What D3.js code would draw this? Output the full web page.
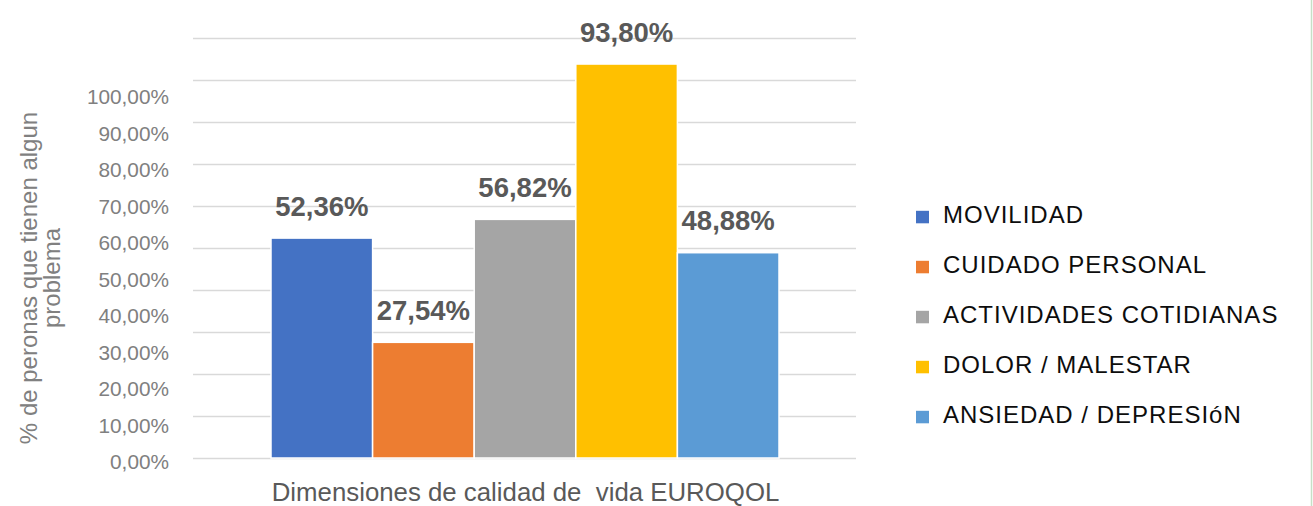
<!DOCTYPE html>
<html>
<head>
<meta charset="utf-8">
<script src="https://cdn.jsdelivr.net/npm/d3@7"></script>
<style>
  body { margin: 0; background: #fff; }
  text { font-family: "Liberation Sans", Arial, sans-serif; }
</style>
</head>
<body>
<div id="chart"></div>
<script>
// data
let categories = ["MOVILIDAD", "CUIDADO PERSONAL", "ACTIVIDADES COTIDIANAS", "DOLOR / MALESTAR", "ANSIEDAD / DEPRESIóN"];
let values = [0.5236, 0.2754, 0.5682, 0.9380, 0.4888];
let colors = ["#4472C4", "#ED7D31", "#A5A5A5", "#FFC000", "#5B9BD5"];
let tickValues = [0, 0.1, 0.2, 0.3, 0.4, 0.5, 0.6, 0.7, 0.8, 0.9, 1];
let tickLabels = ["0,00%", "10,00%", "20,00%", "30,00%", "40,00%", "50,00%", "60,00%", "70,00%", "80,00%", "90,00%", "100,00%"];
let yTitle = ["% de peronas que tienen algun", "problema"];
let xTitle = "Dimensiones de calidad de  vida EUROQOL";

let w = 1313;
let h = 506;
let plotLeft = 193, plotRight = 856;

let svg = d3.select("#chart")
            .append("svg")
            .attr("width", w)
            .attr("height", h)
;

let esLocale = d3.formatLocale({decimal: ",", thousands: ".", grouping: [3], currency: ["", "€"]});
let pct = esLocale.format(".2%");

// scales
let xScale = d3.scaleBand().domain(categories).range([271, 779]).padding(0);
let yScale = d3.scaleLinear().domain([0, 1]).range([458, 38]);
// the tick labels in the picture sit on their own spacing, not on the gridlines
let labelScale = d3.scaleLinear().domain([0, 1]).range([462, 97]);

// gridlines
let gridGroup = svg.append("g")
                   .attr("class", "grid")
                   .attr("transform", "translate(" + plotLeft + ",0)")
;
gridGroup.call(d3.axisRight(yScale).tickValues(tickValues).tickSize(plotRight - plotLeft).tickFormat(""));
gridGroup.select(".domain").remove();
gridGroup.selectAll("line").attr("stroke", "#d9d9d9").attr("stroke-width", 1.5);

// y tick labels
let yAxisGroup = svg.append("g")
                    .attr("class", "yaxis")
                    .attr("transform", "translate(169,0)")
;
yAxisGroup.call(d3.axisLeft(labelScale).tickValues(tickValues).tickSize(0).tickPadding(0)
          .tickFormat((d, i) => tickLabels[i]));
yAxisGroup.select(".domain").remove();
yAxisGroup.selectAll("text")
          .attr("font-family", "Liberation Sans, Arial, sans-serif")
          .attr("font-size", 20.8)
          .attr("fill", "#808080")
;

// bars
svg.selectAll(".bar")
   .data(values)
   .enter()
   .append("rect")
   .attr("class", "bar")
   .attr("x", (d, i) => xScale(categories[i]))
   .attr("y", d => yScale(d))
   .attr("width", xScale.bandwidth())
   .attr("height", d => yScale(0) - yScale(d))
   .attr("fill", (d, i) => colors[i])
   .attr("stroke", "#fff")
   .attr("stroke-width", 1.5)
;

// value labels
svg.selectAll(".vlabel")
   .data(values)
   .enter()
   .append("text")
   .attr("class", "vlabel")
   .attr("x", (d, i) => xScale(categories[i]) + xScale.bandwidth() / 2)
   .attr("y", d => yScale(d) - 22.5)
   .attr("text-anchor", "middle")
   .attr("font-size", 27.5)
   .attr("font-weight", "bold")
   .attr("fill", "#595959")
   .text(d => pct(d))
;

// axis titles
svg.append("text")
   .attr("x", 525.5)
   .attr("y", 500.5)
   .attr("text-anchor", "middle")
   .attr("font-size", 25.8)
   .attr("fill", "#595959")
   .style("white-space", "pre")
   .text(xTitle)
;

yTitle.forEach(function(line, i){
  svg.append("text")
     .attr("transform", "translate(" + (37 + i * 23) + ",278) rotate(-90)")
     .attr("text-anchor", "middle")
     .attr("font-size", 24)
     .attr("fill", "#808080")
     .text(line)
  ;
});

// legend
let legend = svg.selectAll(".legend")
                .data(categories)
                .enter()
                .append("g")
                .attr("class", "legend")
                .attr("transform", (d, i) => "translate(916," + (223.3 + i * 50) + ")")
;
legend.append("rect")
      .attr("x", 0)
      .attr("y", -12.5)
      .attr("width", 13)
      .attr("height", 12.5)
      .attr("fill", (d, i) => colors[i])
;
legend.append("text")
      .attr("x", 27)
      .attr("y", 0)
      .attr("font-size", 24)
      .attr("letter-spacing", 1)
      .attr("fill", "#0d0d0d")
      .text(d => d)
;

// thin green edge on the right
svg.append("line")
   .attr("x1", 1311.5).attr("x2", 1311.5)
   .attr("y1", 0).attr("y2", h)
   .attr("stroke", "#c6e0c6")
   .attr("stroke-width", 1.5)
;
</script>
</body>
</html>
